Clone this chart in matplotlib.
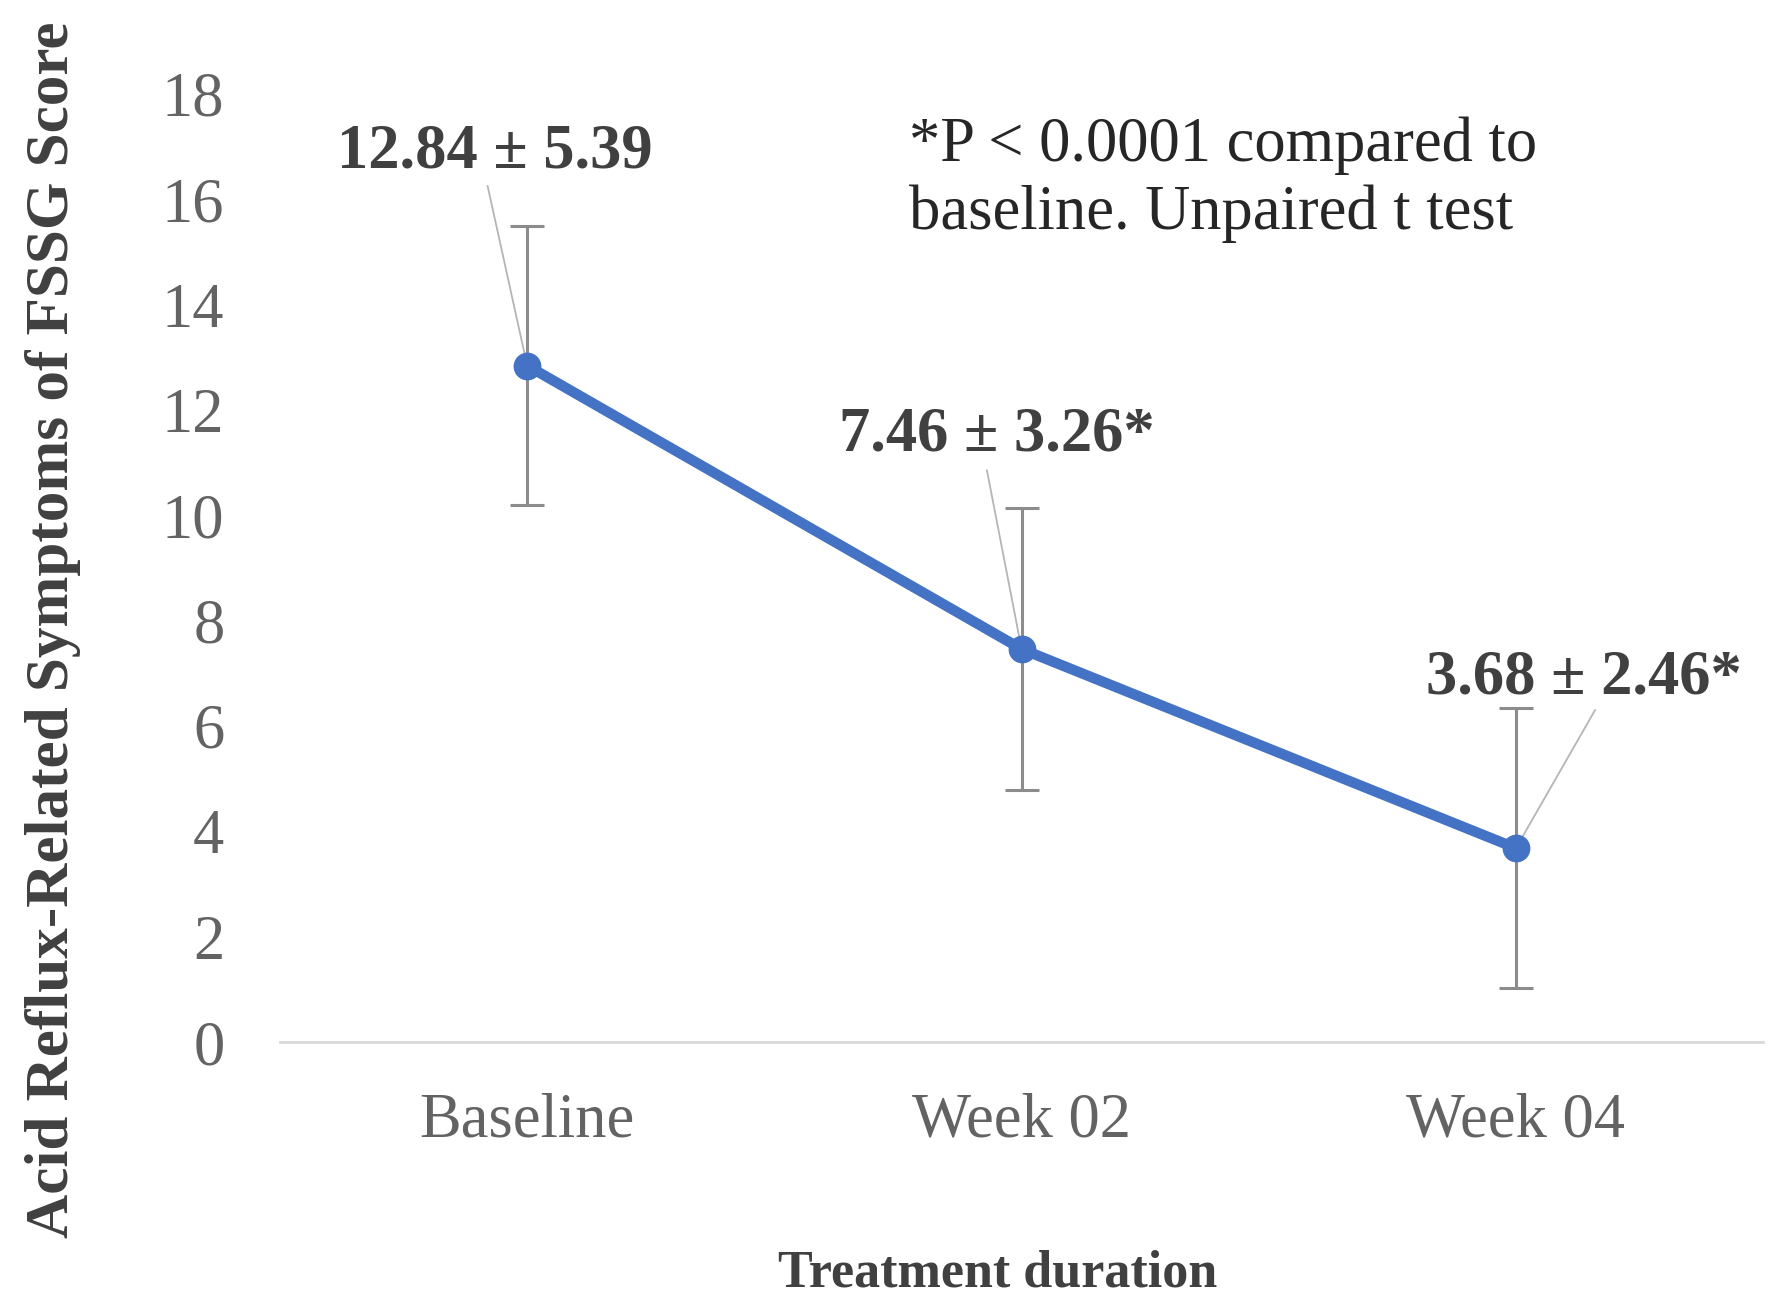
import matplotlib.pyplot as plt
import numpy as np

plt.rcParams['font.family'] = ['Liberation Serif', 'DejaVu Serif']

# data
categories = ['Baseline', 'Week 02', 'Week 04']
means = [12.84, 7.46, 3.68]
err_bars = [2.65, 2.67, 2.66]
point_labels = ['12.84 \u00b1 5.39', '7.46 \u00b1 3.26*', '3.68 \u00b1 2.46*']
label_pos = [(0.435, 16.88), (1.449, 11.52), (2.638, 6.91)]
leader_start = [(0.42, 16.25), (1.43, 10.85), (2.66, 6.3)]
y_ticks = [0, 2, 4, 6, 8, 10, 12, 14, 16, 18]

fig = plt.figure(figsize=(17.72, 13.14), dpi=100)
ax = fig.add_axes([0.158, 0.207, 0.837, 0.7216])

x = np.arange(len(categories)) + 0.5

ax.errorbar(x, means, yerr=err_bars, fmt='none', ecolor='#8c8c8c',
            elinewidth=2.2, capsize=12, capthick=2.2, zorder=2)
ax.plot(x, means, color='#4472C4', lw=7.5, marker='o', ms=19,
        solid_capstyle='round', zorder=3)

for i in range(len(x)):
    ax.plot([leader_start[i][0], x[i]], [leader_start[i][1], means[i]],
            color='#b5b5b5', lw=1.3, zorder=1)
    ax.text(label_pos[i][0], label_pos[i][1], point_labels[i], ha='center',
            va='center', fontsize=45, fontweight='bold', color='#404040')

ax.text(1.272, 16.37, '*P < 0.0001 compared to\nbaseline. Unpaired t test',
        ha='left', va='center', fontsize=45, color='#262626', linespacing=1.22)

ax.set_xlim(0, 3)
ax.set_ylim(0, 18)
ax.set_xticks(x)
ax.set_xticklabels(categories)
ax.set_yticks(y_ticks)
ax.tick_params(axis='both', length=0, labelsize=45, labelcolor='#636363')
ax.tick_params(axis='y', pad=40)
ax.tick_params(axis='x', pad=36)

for s in ['top', 'right', 'left']:
    ax.spines[s].set_visible(False)
ax.spines['bottom'].set_color('#d9d9d9')
ax.spines['bottom'].set_linewidth(2)

fig.text(0.03, 0.521, 'Acid Reflux-Related Symptoms of FSSG Score', rotation=90,
         ha='center', va='center', fontsize=44, fontweight='bold', color='#404040')
fig.text(0.563, 0.031, 'Treatment duration', ha='center', va='center',
         fontsize=37.5, fontweight='bold', color='#404040')

fig.savefig('out.png', dpi=100)
